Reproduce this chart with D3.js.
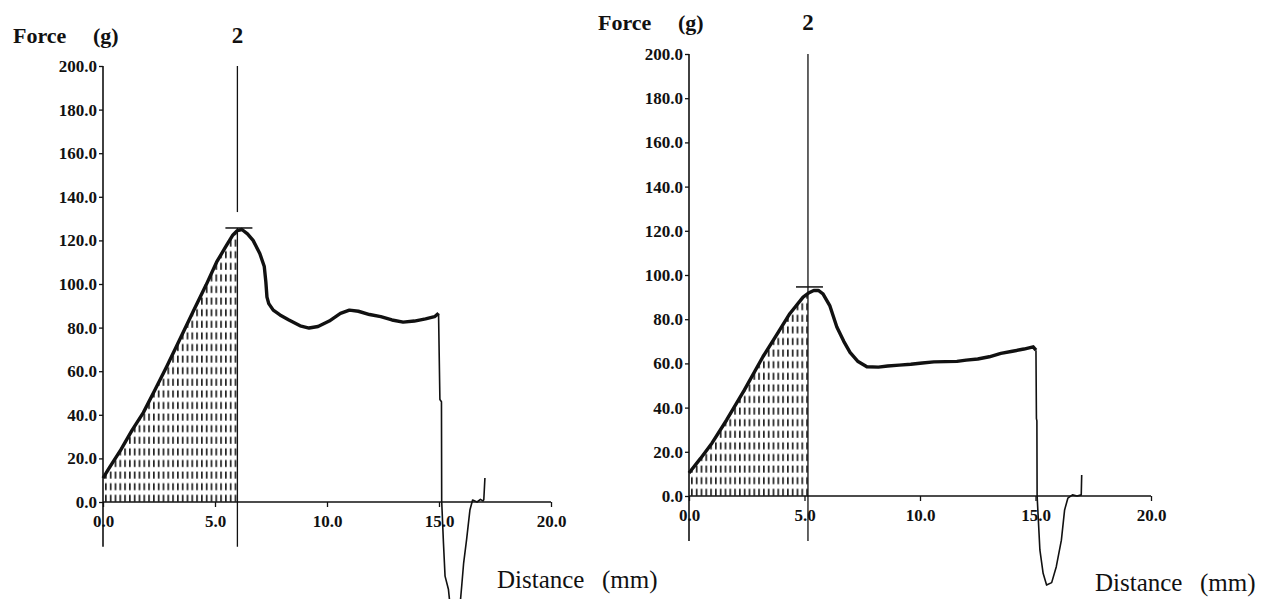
<!DOCTYPE html>
<html>
<head>
<meta charset="utf-8">
<script src="https://cdn.jsdelivr.net/npm/d3@7"></script>
<style>
  body { margin: 0; background: #fff; }
</style>
</head>
<body>
<div id="svg-area"></div>
<script>
var svgWidth = 1268;
var svgHeight = 599;
var serif = "Liberation Serif, Times New Roman, serif";

// axis ticks (same for both panels)
var xTicks = [0, 5, 10, 15, 20];
var yTicks = [0, 20, 40, 60, 80, 100, 120, 140, 160, 180, 200];

// left panel: force (g) vs distance (mm)
var leftDistance = [0, 0.3, 0.8, 1.3, 1.8, 2.3, 2.84, 3.4, 4.03, 4.6, 5.07, 5.5, 5.8, 6.0, 6.2, 6.45,
  6.7, 7.0, 7.2, 7.27, 7.32, 7.4, 7.6, 7.9, 8.3, 8.8, 9.2, 9.6, 10.1, 10.6, 11.0, 11.4, 11.9, 12.4,
  12.9, 13.4, 13.9, 14.4, 14.8, 14.98, 15.04, 15.11, 15.12, 15.2, 15.27, 15.42, 15.47, 15.55, 15.85,
  15.95, 16.01, 16.1, 16.23, 16.38, 16.5, 16.7, 16.85, 16.96, 17.0, 17.05];
var leftForce = [11, 16, 24, 33, 41, 51, 62, 74, 87.5, 99.5, 110, 117.5, 122.5, 124.5, 125, 123,
  120, 114, 108, 101, 94, 91, 88, 85.8, 83.5, 80.8, 79.8, 80.5, 83, 86.5, 88, 87.5, 86, 85,
  83.5, 82.5, 83, 84, 85, 86.5, 47, 46, 0.5, -19, -34, -40, -45, -49, -49,
  -46, -39, -28, -17.4, -3.7, 0.9, 0, 1.2, 0.5, 1, 11];
var leftMarker = 6.0;
var leftPeak = 125.7;
var leftMarkerSegments = [[200, 133], [125.7, -20.5]];

// right panel
var rightDistance = [0, 0.5, 1.0, 1.63, 2.4, 3.2, 3.8, 4.37, 4.94, 5.2, 5.4, 5.6, 5.8, 6.1, 6.4,
  6.7, 6.97, 7.3, 7.7, 8.2, 8.6, 9.1, 9.6, 10.1, 10.6, 11.1, 11.6, 12.0, 12.5, 13.0, 13.5, 14.0,
  14.5, 14.9, 15.02, 15.04, 15.06, 15.07, 15.19, 15.33, 15.48, 15.7, 15.9, 16.12, 16.26, 16.4,
  16.6, 16.8, 16.98, 17.0];
var rightForce = [10.4, 17, 24, 34.4, 48, 63, 73, 82.6, 90, 92, 93, 93, 91.5, 86, 76.5,
  70, 65, 61, 58.5, 58.3, 58.8, 59.2, 59.6, 60.2, 60.7, 60.8, 60.9, 61.5, 62, 63, 64.5, 65.5,
  66.5, 67.5, 66, 35, 34, 0, -24.4, -35, -40.3, -39.2, -32, -20, -6.3, -1,
  0.5, 0, 0.5, 9.5];
var rightMarker = 5.15;
var rightPeak = 94.6;
var rightMarkerSegments = [[200, -20.4]];

var svg = d3.select("#svg-area")
  .append("svg")
  .attr("width", svgWidth)
  .attr("height", svgHeight);

var defs = svg.append("defs");

function drawChart(c) {
  var data = c.distance.map(function(d, i) { return { x: d, y: c.force[i] }; });

  var xScale = d3.scaleLinear().domain([0, 20]).range(c.xRange);
  var yScale = d3.scaleLinear().domain([0, 200]).range(c.yRange);

  var g = svg.append("g");

  // dotted hatch under the curve up to the marker
  var pat = defs.append("pattern")
    .attr("id", "hatch-" + c.id)
    .attr("patternUnits", "userSpaceOnUse")
    .attr("x", xScale(0) + 2)
    .attr("y", yScale(0))
    .attr("width", 4.8)
    .attr("height", 11.6);
  pat.append("rect")
    .attr("x", 0).attr("y", 4.4)
    .attr("width", 1.7).attr("height", 7)
    .attr("fill", "#222");

  defs.append("clipPath").attr("id", "clip-" + c.id)
    .append("rect")
    .attr("x", xScale(0))
    .attr("y", yScale(200))
    .attr("width", xScale(c.marker) - xScale(0))
    .attr("height", yScale(0) - yScale(200));

  var area = d3.area()
    .x(d => xScale(d.x))
    .y0(yScale(0))
    .y1(d => yScale(Math.max(0, d.y)));

  g.append("path")
    .attr("d", area(data.filter(d => d.x <= c.marker + 1)))
    .attr("fill", "url(#hatch-" + c.id + ")")
    .attr("clip-path", "url(#clip-" + c.id + ")");

  // y axis
  var yAxis = d3.axisLeft(yScale)
    .tickValues(yTicks)
    .tickFormat(d3.format(".1f"))
    .tickSize(4)
    .tickSizeOuter(0)
    .tickPadding(2);
  var ya = g.append("g")
    .attr("transform", "translate(" + xScale(0) + ",0)")
    .attr("font-family", serif)
    .call(yAxis);
  ya.select(".domain").remove();
  ya.selectAll("line").attr("stroke", "#111").attr("stroke-width", 1.3);
  ya.selectAll("text")
    .attr("font-family", serif)
    .attr("font-weight", "bold")
    .attr("font-size", 17)
    .attr("fill", "#111");

  g.append("line")
    .attr("x1", xScale(0)).attr("x2", xScale(0))
    .attr("y1", yScale(200)).attr("y2", yScale(c.axisBottom))
    .attr("stroke", "#111").attr("stroke-width", 1.6);

  // x axis
  var xAxis = d3.axisBottom(xScale)
    .tickValues(xTicks)
    .tickFormat(d3.format(".1f"))
    .tickSize(5)
    .tickSizeOuter(0)
    .tickPadding(8);
  var xa = g.append("g")
    .attr("transform", "translate(0," + yScale(0) + ")")
    .attr("font-family", serif)
    .call(xAxis);
  xa.select(".domain").remove();
  xa.selectAll("line").attr("stroke", "#111").attr("stroke-width", 1.3);
  xa.selectAll("text")
    .attr("font-family", serif)
    .attr("font-weight", "bold")
    .attr("font-size", 17)
    .attr("fill", "#111");

  g.append("line")
    .attr("x1", xScale(0)).attr("x2", xScale(20))
    .attr("y1", yScale(0)).attr("y2", yScale(0))
    .attr("stroke", "#111").attr("stroke-width", 1.6);

  // marker line and peak bar
  c.markerSegments.forEach(function(s) {
    g.append("line")
      .attr("x1", xScale(c.marker)).attr("x2", xScale(c.marker))
      .attr("y1", yScale(s[0])).attr("y2", yScale(s[1]))
      .attr("stroke", "#111").attr("stroke-width", 1.3);
  });
  g.append("line")
    .attr("x1", xScale(c.marker) - 12).attr("x2", xScale(c.marker) + 15)
    .attr("y1", yScale(c.peak)).attr("y2", yScale(c.peak))
    .attr("stroke", "#111").attr("stroke-width", 1.5);

  // the trace: thick before the break, thin after
  var line = d3.line()
    .x(d => xScale(d.x))
    .y(d => yScale(d.y));

  g.append("path")
    .attr("fill", "none")
    .attr("stroke", "#111")
    .attr("stroke-width", 3.4)
    .attr("stroke-linejoin", "round")
    .attr("d", line(data.filter(d => d.x <= c.breakAt)));

  g.append("path")
    .attr("fill", "none")
    .attr("stroke", "#111")
    .attr("stroke-width", 1.6)
    .attr("stroke-linejoin", "round")
    .attr("d", line(data.filter(d => d.x >= c.breakAt)));

  // titles
  g.append("text")
    .attr("x", c.forcePos[0]).attr("y", c.forcePos[1])
    .attr("font-family", serif)
    .attr("font-weight", "bold")
    .attr("font-size", 22)
    .attr("fill", "#111")
    .text("Force");
  g.append("text")
    .attr("x", c.forcePos[0] + 80).attr("y", c.forcePos[1])
    .attr("font-family", serif)
    .attr("font-weight", "bold")
    .attr("font-size", 22)
    .attr("fill", "#111")
    .text("(g)");
  g.append("text")
    .attr("x", xScale(c.marker)).attr("y", c.forcePos[1])
    .attr("text-anchor", "middle")
    .attr("font-family", serif)
    .attr("font-weight", "bold")
    .attr("font-size", 23)
    .attr("fill", "#111")
    .text("2");

  g.append("text")
    .attr("x", c.distPos[0]).attr("y", c.distPos[1])
    .attr("font-family", serif)
    .attr("font-size", 25)
    .attr("fill", "#111")
    .text("Distance");
  g.append("text")
    .attr("x", c.distPos[0] + 105).attr("y", c.distPos[1])
    .attr("font-family", serif)
    .attr("font-size", 25)
    .attr("fill", "#111")
    .text("(mm)");
}

drawChart({
  id: "left",
  distance: leftDistance,
  force: leftForce,
  marker: leftMarker,
  peak: leftPeak,
  markerSegments: leftMarkerSegments,
  breakAt: 14.98,
  axisBottom: -20.5,
  xRange: [103, 551],
  yRange: [502, 66],
  forcePos: [13, 43],
  distPos: [497, 588]
});

drawChart({
  id: "right",
  distance: rightDistance,
  force: rightForce,
  marker: rightMarker,
  peak: rightPeak,
  markerSegments: rightMarkerSegments,
  breakAt: 15.02,
  axisBottom: -20.4,
  xRange: [689, 1151],
  yRange: [496, 54],
  forcePos: [598, 30],
  distPos: [1095, 591]
});
</script>
</body>
</html>
